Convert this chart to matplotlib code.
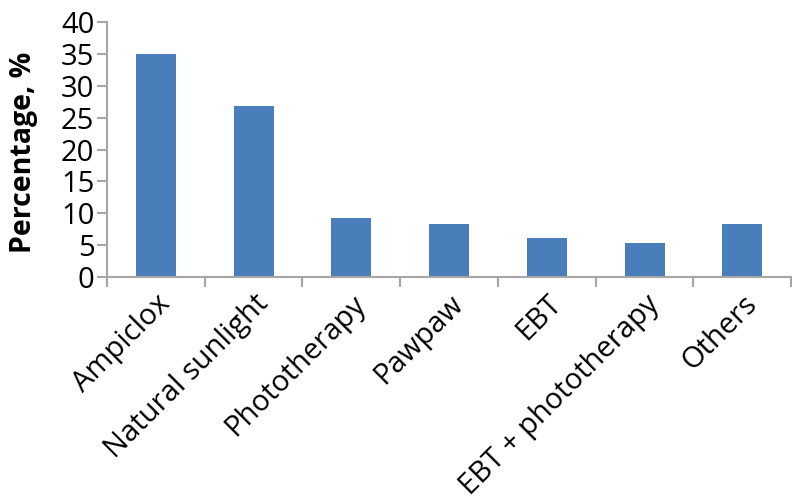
import matplotlib
matplotlib.use("Agg")
import matplotlib.pyplot as plt
import numpy as np

categories = ["Ampiclox", "Natural sunlight", "Phototherapy", "Pawpaw", "EBT",
              "EBT + phototherapy", "Others"]
values = [35.0, 26.8, 9.3, 8.3, 6.1, 5.3, 8.4]
yticks = [0, 5, 10, 15, 20, 25, 30, 35, 40]

plt.rcParams['font.family'] = ['Open Sans', 'DejaVu Sans']

fig = plt.figure(figsize=(7.92, 5.01), dpi=100)
ax = fig.add_axes([0.135, 0.447, 0.864, 0.509])

x = np.arange(len(categories))
ax.bar(x, values, width=0.41, color="#4A7EBB", zorder=2)

ax.set_xlim(-0.5, len(categories) - 0.5)
ax.set_ylim(0, 40)
ax.set_yticks(yticks)
ax.set_yticklabels([str(t) for t in yticks], fontsize=21)

gray = "#A6A6A6"
for s in ["top", "right"]:
    ax.spines[s].set_visible(False)
for s in ["left", "bottom"]:
    ax.spines[s].set_color(gray)
    ax.spines[s].set_linewidth(1.5)

ax.tick_params(axis="y", length=7, width=1.5, color=gray, pad=2)
# category boundaries as ticks
ax.set_xticks(np.arange(-0.5, len(categories) + 0.5, 1.0))
ax.set_xticklabels([])
ax.tick_params(axis="x", length=7, width=1.5, color=gray)
ax.set_xticks(x, minor=True)
ax.set_xticklabels(categories, minor=True, rotation=45, ha="right",
                   rotation_mode="anchor", fontsize=21)
ax.tick_params(axis="x", which="minor", length=0, pad=9)

ax.set_ylabel("Percentage, %", fontsize=20.5, fontweight="bold")
ax.yaxis.set_label_coords(-0.101, 0.49)

fig.savefig("out.png", dpi=100)
